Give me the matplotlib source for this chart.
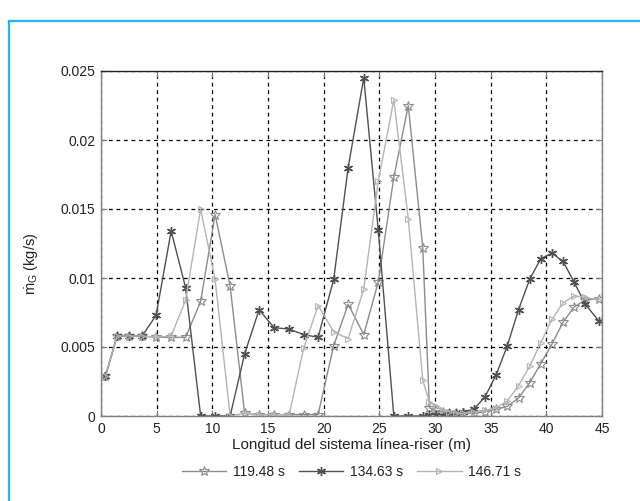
import matplotlib
matplotlib.use("Agg")
import matplotlib.pyplot as plt
from matplotlib.lines import Line2D

plt.rcParams['font.family'] = ['Liberation Sans', 'DejaVu Sans']
plt.rcParams['mathtext.fontset'] = 'custom'
plt.rcParams['mathtext.rm'] = 'Liberation Sans'
plt.rcParams['mathtext.it'] = 'Liberation Sans'

# Position along the line-riser system (m)
x_pos = [0.4, 1.45, 2.55, 3.7, 4.95, 6.3, 7.6, 8.95, 10.25, 11.6, 12.9, 14.2,
         15.55, 16.9, 18.2, 19.5, 20.9, 22.2, 23.6, 24.9, 26.3, 27.6, 28.9,
         29.5, 30.1, 30.7, 31.3, 31.9, 32.5, 33.5, 34.5, 35.5, 36.5, 37.5,
         38.5, 39.5, 40.5, 41.5, 42.5, 43.5, 44.7]

# Gas mass flow rate (kg/s) at three instants
m_119 = [0.0029, 0.0058, 0.0058, 0.0058, 0.0057, 0.0057, 0.0057, 0.0083,
         0.0146, 0.0094, 0.0002, 0.0001, 0.0001, 0.0001, 0.0001, 0.0001,
         0.0051, 0.0081, 0.0059, 0.0097, 0.0173, 0.0225, 0.0122,
         0.0006, 0.0004, 0.0003, 0.0002, 0.0002, 0.0002, 0.0002, 0.0003,
         0.0005, 0.0007, 0.0013, 0.0024, 0.0038, 0.0052, 0.0068, 0.0079,
         0.0084, 0.0085]
m_134 = [0.0029, 0.0058, 0.0058, 0.0058, 0.0073, 0.0134, 0.0093, 0.0000,
         0.0000, 0.0000, 0.0045, 0.0077, 0.0064, 0.0063, 0.0059, 0.0057,
         0.0099, 0.0180, 0.0245, 0.0135, 0.0000, 0.0000, 0.0000,
         0.0001, 0.0001, 0.0001, 0.0002, 0.0002, 0.0003, 0.0005, 0.0014,
         0.0030, 0.0051, 0.0077, 0.0099, 0.0114, 0.0118, 0.0112, 0.0097,
         0.0081, 0.0069]
m_146 = [0.0029, 0.0058, 0.0058, 0.0058, 0.0057, 0.0058, 0.0084, 0.0150,
         0.0099, 0.0000, 0.0002, 0.0001, 0.0001, 0.0001, 0.0049, 0.0080,
         0.0061, 0.0056, 0.0092, 0.0170, 0.0229, 0.0143, 0.0026,
         0.0010, 0.0007, 0.0004, 0.0003, 0.0002, 0.0002, 0.0003, 0.0004,
         0.0006, 0.0011, 0.0022, 0.0036, 0.0053, 0.0070, 0.0082, 0.0087,
         0.0086, 0.0084]

series_labels = ['119.48 s', '134.63 s', '146.71 s']
x_ticks = [0, 5, 10, 15, 20, 25, 30, 35, 40, 45]
y_ticks = [0, 0.005, 0.01, 0.015, 0.02, 0.025]
y_tick_labels = ['0', '0.005', '0.01', '0.015', '0.02', '0.025']

fig = plt.figure(figsize=(6.40, 5.01), dpi=100)
fig.patch.set_facecolor('white')

# open cyan frame (left and top edges)
fig.add_artist(Line2D([8.5 / 640, 8.5 / 640], [0, 1 - 20.5 / 501],
                      color='#22b8ec', lw=1.6, transform=fig.transFigure))
fig.add_artist(Line2D([8.5 / 640, 1], [1 - 20.5 / 501, 1 - 20.5 / 501],
                      color='#22b8ec', lw=1.6, transform=fig.transFigure))

ax = fig.add_axes([101 / 640, 1 - 416 / 501, 501 / 640, 345 / 501])

ax.plot(x_pos, m_119, color='#8c8c8c', lw=1.0, marker='*', ms=7,
        mfc='none', mec='#8c8c8c', mew=0.8, label=series_labels[0])
ax.plot(x_pos, m_134, color='#505050', lw=1.0, marker=(6, 2, 0), ms=6.5,
        mec='#505050', mew=1.0, label=series_labels[1])
ax.plot(x_pos, m_146, color='#b4b4b4', lw=1.0, marker='>', ms=5,
        mfc='none', mec='#b4b4b4', mew=0.8, label=series_labels[2])

ax.set_xlim(0, 45)
ax.set_ylim(0, 0.025)
ax.set_xticks(x_ticks)
ax.set_yticks(y_ticks)
ax.set_yticklabels(y_tick_labels)
ax.grid(True, color='black', linestyle=(0, (3, 3)), linewidth=0.9)
ax.tick_params(direction='in', length=4, color='#808080', labelsize=10,
               labelcolor='#222222', top=True, right=True, pad=4)

for side in ['left', 'bottom', 'right']:
    ax.spines[side].set_color('#808080')
ax.spines['top'].set_color('#222222')
for sp in ax.spines.values():
    sp.set_linewidth(1.0)

ax.set_xlabel('Longitud del sistema línea-riser (m)', fontsize=11,
              color='#222222', labelpad=2)
ax.set_ylabel(r'$\dot{m}_G$ (kg/s)', fontsize=10.5, color='#222222')
ax.yaxis.set_label_coords(-0.122, 0.44)

leg = ax.legend(loc='upper center', bbox_to_anchor=(0.5, -0.105), ncol=3,
                frameon=False, fontsize=10, handlelength=3.2,
                columnspacing=1.0, handletextpad=0.5)
for t in leg.get_texts():
    t.set_color('#222222')

fig.savefig('out.png', dpi=100, facecolor='white')
